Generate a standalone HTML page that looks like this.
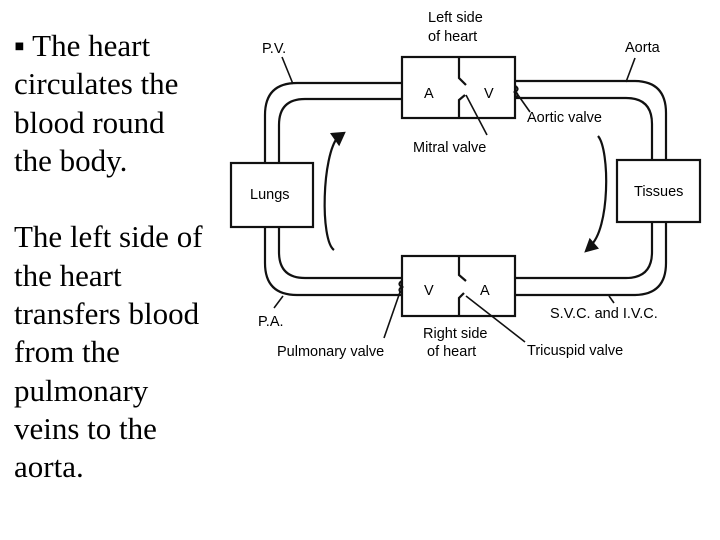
<!DOCTYPE html>
<html><head><meta charset="utf-8"><style>
html,body{margin:0;padding:0;background:#fff;width:720px;height:540px;overflow:hidden}
.t{position:absolute;left:14px;top:27px;font-family:"Liberation Serif",serif;font-size:31px;line-height:38.3px;color:#000;margin:0;white-space:nowrap}
svg{position:absolute;left:0;top:0}
svg text{font-family:"Liberation Sans",sans-serif;font-size:14.5px;fill:#000}
</style></head><body>
<div class="t">&#9642; The heart<br>circulates the<br>blood round<br>the body.<br><br>The left side of<br>the heart<br>transfers blood<br>from the<br>pulmonary<br>veins to the<br>aorta.</div>
<svg width="720" height="540" viewBox="0 0 720 540" fill="none" stroke="#111" stroke-width="2.2">
<path d="M402,83 H297 Q265,83 265,115 V163"/>
<path d="M265,227 V263 Q265,295 297,295 H402"/>
<path d="M515,295 H634 Q666,295 666,263 V222"/>
<path d="M666,160 V113 Q666,81 634,81 H515"/>
<path d="M402,99 H305 Q279,99 279,125 V163"/>
<path d="M279,227 V252 Q279,278 305,278 H402"/>
<path d="M515,278 H626 Q652,278 652,252 V222"/>
<path d="M652,160 V124 Q652,98 626,98 H515"/>
<rect x="402" y="57" width="113" height="61"/>
<rect x="402" y="256" width="113" height="60"/>
<rect x="231" y="163" width="82" height="64"/>
<rect x="617" y="160" width="83" height="62"/>
<path d="M459,57 V78 L466,85"/>
<path d="M459,118 V100 L465,95"/>
<path d="M515,86 q5,3 0,6 q5,3 0,6"/>
<path d="M459,256 V275 L466,281"/>
<path d="M459,316 V298 L464,293"/>
<path d="M402,281 q-5,3 0,6 q-5,3 0,6"/>
<g stroke-width="1.6">
<path d="M466,95 L487,135"/>
<path d="M518,95 L530,112"/>
<path d="M282,57 L293,84"/>
<path d="M635,58 L626,82"/>
<path d="M283,296 L274,308"/>
<path d="M609,296 L614,303"/>
<path d="M400,292 L384,338"/>
<path d="M466,296 L525,342"/>
</g>
<path d="M334,250 C320,240 322,155 338,137"/>
<path d="M332,134 L344,133 L339,144 Z" fill="#111"/>
<path d="M598,136 C610,150 610,230 590,246"/>
<path d="M586,251 L590,240 L597,248 Z" fill="#111"/>
<g stroke="none">
<text x="428" y="22">Left side</text>
<text x="428" y="41">of heart</text>
<text x="262" y="53">P.V.</text>
<text x="625" y="52">Aorta</text>
<text x="424" y="98">A</text>
<text x="484" y="98">V</text>
<text x="527" y="122">Aortic valve</text>
<text x="413" y="152">Mitral valve</text>
<text x="250" y="199">Lungs</text>
<text x="634" y="196">Tissues</text>
<text x="424" y="295">V</text>
<text x="480" y="295">A</text>
<text x="550" y="318">S.V.C. and I.V.C.</text>
<text x="258" y="326">P.A.</text>
<text x="423" y="338">Right side</text>
<text x="427" y="356">of heart</text>
<text x="277" y="356">Pulmonary valve</text>
<text x="527" y="355">Tricuspid valve</text>
</g>
</svg>
</body></html>
